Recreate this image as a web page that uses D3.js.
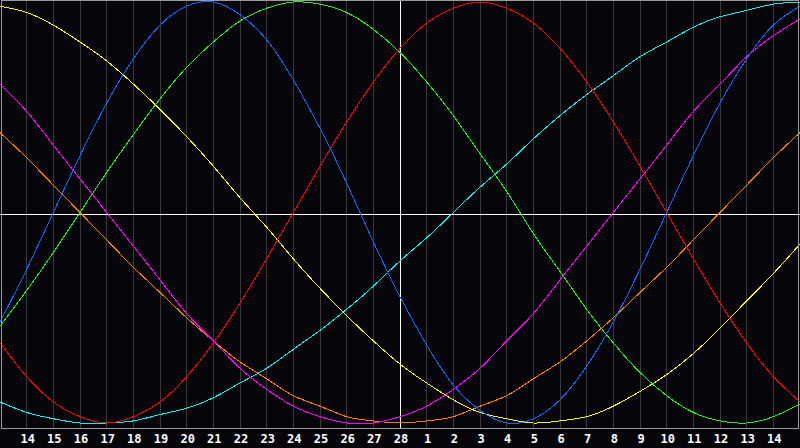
<!DOCTYPE html>
<html>
<head>
<meta charset="utf-8">
<script src="https://cdn.jsdelivr.net/npm/d3@7"></script>
<style>
  html, body { margin: 0; padding: 0; background: #060509; }
  svg { display: block; }
  .day { font-family: "DejaVu Sans Mono", monospace; font-weight: bold; font-size: 12px; fill: #ffffff; }
</style>
</head>
<body>
<div id="chart"></div>
<script>
// ==============================
// Biorhythm chart, 30 day window
// ==============================
var svgWidth = 800;
var svgHeight = 448;

// day labels, one per grid line (index 1..29)
var dayLabels = [14, 15, 16, 17, 18, 19, 20, 21, 22, 23, 24, 25, 26, 27, 28,
  1, 2, 3, 4, 5, 6, 7, 8, 9, 10, 11, 12, 13, 14];

// values (percent) read per day, index 0..30
var physical = [-52, -27, 0, 27, 52, 73, 89, 98, 100, 94, 82, 63, 40, 14, -14, -40,
  -63, -82, -94, -100, -98, -89, -73, -52, -27, 0, 27, 52, 73, 89, 98];
var emotional = [-62, -78, -90, -97, -100, -97, -90, -78, -62, -43, -22, 0, 22, 43, 62, 78,
  90, 97, 100, 97, 90, 78, 62, 43, 22, 0, -22, -43, -62, -78, -90];
var intellectual = [-54, -37, -19, 0, 19, 37, 54, 69, 81, 91, 97, 100, 99, 95, 87, 76,
  62, 46, 28, 10, -10, -28, -46, -62, -76, -87, -95, -99, -100, -97, -91];
var intuitive = [61, 48, 32, 16, 0, -16, -32, -48, -61, -74, -84, -92, -97, -100, -100, -97,
  -92, -84, -74, -61, -48, -32, -16, 0, 16, 32, 48, 61, 74, 84, 92];
var aesthetic = [98, 95, 89, 81, 72, 61, 49, 36, 22, 7, -7, -22, -36, -49, -61, -72,
  -81, -89, -95, -98, -100, -99, -97, -92, -85, -77, -67, -55, -42, -29, -15];
var awareness = [38, 26, 13, 0, -13, -26, -38, -50, -61, -71, -79, -87, -92, -97, -99, -100,
  -99, -97, -92, -87, -79, -71, -61, -50, -38, -26, -13, 0, 13, 26, 38];
var spiritual = [-90, -95, -98, -100, -100, -99, -96, -93, -88, -81, -74, -65, -56, -46, -35, -23,
  -12, 0, 12, 23, 35, 46, 56, 65, 74, 81, 88, 93, 96, 99, 100];

var seriesNames = ["awareness", "spiritual", "aesthetic", "intuitive", "intellectual", "emotional", "physical"];
var seriesValues = [awareness, spiritual, aesthetic, intuitive, intellectual, emotional, physical];
var seriesColors = ["#ff8000", "#11eeee", "#ffff00", "#ff00ff", "#22ee22", "#ff0000", "#1166ff"];

var svg = d3.select("#chart")
  .append("svg")
  .attr("width", svgWidth)
  .attr("height", svgHeight);

svg.append("rect")
  .attr("width", svgWidth)
  .attr("height", svgHeight)
  .attr("fill", "#060509");

var xScale = d3.scaleLinear().domain([0, 30]).range([0, 800]);
var yScale = d3.scaleLinear().domain([-100, 100]).range([423, 2]);

// vertical day grid
var gridDays = d3.range(1, 30);
svg.append("g")
  .selectAll("line")
  .data(gridDays)
  .enter()
  .append("line")
  .attr("x1", d => Math.floor(xScale(d)) + 0.5)
  .attr("x2", d => Math.floor(xScale(d)) + 0.5)
  .attr("y1", 0)
  .attr("y2", 428)
  .attr("stroke", d => d === 15 ? "#ffffff" : "#3a3a3a")
  .attr("stroke-width", 1)
  .attr("shape-rendering", "crispEdges");

// zero line
svg.append("line")
  .attr("x1", 0)
  .attr("x2", 800)
  .attr("y1", 214.5)
  .attr("y2", 214.5)
  .attr("stroke", "#ffffff")
  .attr("shape-rendering", "crispEdges");

// curves
var line = d3.line()
  .x((d, i) => xScale(i))
  .y(d => yScale(d))
  .curve(d3.curveNatural);

svg.append("g")
  .selectAll("path")
  .data(seriesValues)
  .enter()
  .append("path")
  .attr("class", (d, i) => "cycle " + seriesNames[i])
  .attr("d", line)
  .attr("fill", "none")
  .attr("stroke", (d, i) => seriesColors[i])
  .attr("stroke-width", 1)
  .attr("shape-rendering", "crispEdges");

// frame
svg.append("rect")
  .attr("x", 1.5)
  .attr("y", 0.5)
  .attr("width", 797)
  .attr("height", 428)
  .attr("fill", "none")
  .attr("stroke", "#9a9a9a")
  .attr("shape-rendering", "crispEdges");

// day labels
svg.append("g")
  .selectAll("text")
  .data(dayLabels)
  .enter()
  .append("text")
  .attr("class", "day")
  .attr("x", (d, i) => xScale(i + 1) + 1)
  .attr("y", 443)
  .attr("text-anchor", "middle")
  .text(d => d);
</script>
</body>
</html>
